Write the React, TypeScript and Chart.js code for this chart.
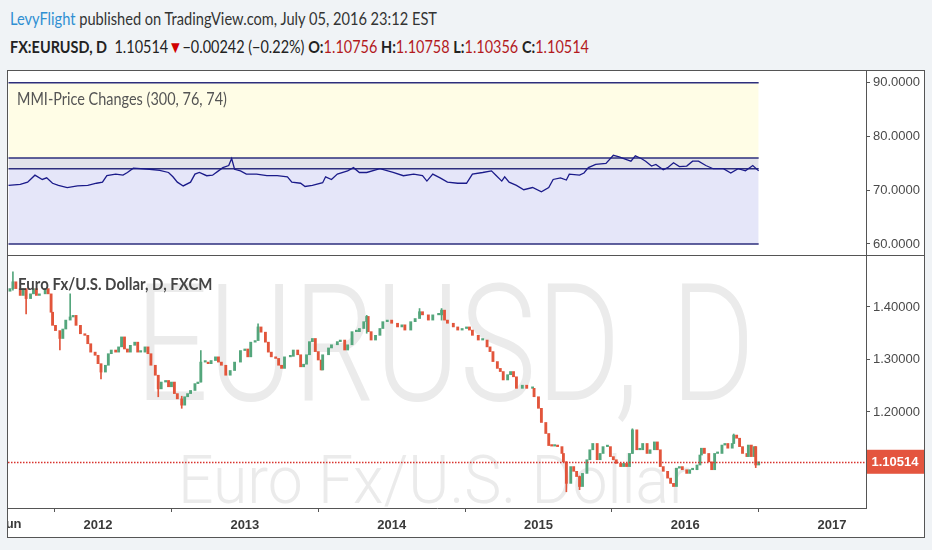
import { useEffect, useRef } from "react";
import { Chart, registerables } from "chart.js";

Chart.register(...registerables);

// MMI indicator (decimal year, value)
const mmiTime = [
  2011.39, 2011.47, 2011.52, 2011.57, 2011.62, 2011.65, 2011.69, 2011.73, 2011.79, 2011.86,
  2011.93, 2011.99, 2012.03, 2012.06, 2012.12, 2012.17, 2012.2, 2012.24, 2012.29, 2012.35,
  2012.42, 2012.48, 2012.51, 2012.54, 2012.58, 2012.63, 2012.66, 2012.69, 2012.74, 2012.78,
  2012.82, 2012.85, 2012.89, 2012.91, 2012.93, 2012.97, 2013.01, 2013.08, 2013.15, 2013.22,
  2013.29, 2013.32, 2013.38, 2013.41, 2013.46, 2013.53, 2013.55, 2013.59, 2013.63, 2013.7,
  2013.74, 2013.78, 2013.83, 2013.92, 2014.01, 2014.08, 2014.15, 2014.21, 2014.24, 2014.28,
  2014.33, 2014.38, 2014.45, 2014.51, 2014.55, 2014.62, 2014.68, 2014.71, 2014.75, 2014.77,
  2014.8, 2014.85, 2014.9, 2014.96, 2015.02, 2015.07, 2015.1, 2015.15, 2015.19, 2015.21,
  2015.28, 2015.31, 2015.34, 2015.39, 2015.46, 2015.51, 2015.55, 2015.6, 2015.63, 2015.66,
  2015.7, 2015.73, 2015.77, 2015.8, 2015.85, 2015.88, 2015.92, 2015.96, 2016.01, 2016.05,
  2016.09, 2016.14, 2016.19, 2016.26, 2016.31, 2016.36, 2016.41, 2016.46, 2016.5,
];
const mmiValue = [
  70.9, 71.1, 71.5, 72.8, 72.0, 72.3, 71.3, 70.9, 70.5, 70.8,
  70.9, 71.3, 71.5, 72.7, 73.0, 72.8, 73.3, 74.1, 74.0, 73.9,
  73.7, 73.3, 72.5, 71.5, 70.8, 71.5, 73.0, 73.3, 72.7, 72.8,
  73.6, 74.2, 74.6, 75.9, 73.9, 73.6, 73.0, 73.0, 72.7, 72.7,
  72.5, 71.5, 71.3, 70.7, 70.9, 71.4, 72.5, 72.0, 73.0, 73.6,
  74.2, 73.3, 73.3, 74.0, 73.3, 72.7, 73.0, 72.7, 71.7, 73.0,
  72.3, 71.5, 71.3, 71.3, 73.0, 73.3, 73.6, 72.8, 71.7, 72.5,
  71.5, 70.9, 70.1, 70.5, 69.7, 70.5, 72.0, 72.3, 71.9, 73.0,
  72.8, 73.2, 74.2, 74.8, 75.0, 76.5, 76.2, 75.7, 75.4, 76.4,
  75.9, 75.4, 74.5, 74.8, 73.8, 74.2, 75.1, 74.4, 74.5, 75.4,
  75.4, 74.6, 74.0, 74.0, 73.2, 74.0, 73.6, 74.6, 73.6,
];
const mmiLevels = [90, 76, 74, 60];
const mmiTicks = [60, 70, 80, 90];

// EUR/USD candles (decimal year, close)
const priceTime = [
  2011.4, 2011.42, 2011.44, 2011.47, 2011.49, 2011.51, 2011.54, 2011.56, 2011.58, 2011.6,
  2011.64, 2011.66, 2011.68, 2011.69, 2011.71, 2011.74, 2011.76, 2011.78, 2011.81, 2011.83,
  2011.85, 2011.88, 2011.91, 2011.93, 2011.95, 2011.98, 2012.0, 2012.02, 2012.05, 2012.07,
  2012.09, 2012.12, 2012.14, 2012.16, 2012.18, 2012.2, 2012.22, 2012.25, 2012.27, 2012.29,
  2012.32, 2012.34, 2012.36, 2012.39, 2012.41, 2012.43, 2012.46, 2012.48, 2012.5, 2012.52,
  2012.54, 2012.57, 2012.59, 2012.61, 2012.63, 2012.66, 2012.68, 2012.7, 2012.73, 2012.75,
  2012.77, 2012.8, 2012.82, 2012.84, 2012.87, 2012.9, 2012.93, 2012.97, 2013.0, 2013.02,
  2013.04, 2013.07, 2013.09, 2013.11, 2013.14, 2013.16, 2013.18, 2013.21, 2013.23, 2013.25,
  2013.27, 2013.31, 2013.33, 2013.36, 2013.38, 2013.4, 2013.42, 2013.44, 2013.46, 2013.48,
  2013.5, 2013.52, 2013.53, 2013.57, 2013.59, 2013.63, 2013.65, 2013.68, 2013.7, 2013.73,
  2013.76, 2013.78, 2013.81, 2013.83, 2013.84, 2013.86, 2013.89, 2013.92, 2013.94, 2013.97,
  2014.0, 2014.04, 2014.07, 2014.09, 2014.13, 2014.16, 2014.19, 2014.21, 2014.25, 2014.28,
  2014.32, 2014.34, 2014.36, 2014.38, 2014.42, 2014.45, 2014.48, 2014.51, 2014.53, 2014.55,
  2014.59, 2014.62, 2014.65, 2014.67, 2014.69, 2014.72, 2014.74, 2014.76, 2014.79, 2014.81,
  2014.83, 2014.85, 2014.89, 2014.92, 2014.96, 2014.97, 2015.0, 2015.02, 2015.05, 2015.07,
  2015.09, 2015.11, 2015.13, 2015.16, 2015.17, 2015.19, 2015.22, 2015.24, 2015.26, 2015.28,
  2015.3, 2015.33, 2015.35, 2015.37, 2015.4, 2015.42, 2015.44, 2015.47, 2015.49, 2015.51,
  2015.53, 2015.56, 2015.58, 2015.6, 2015.62, 2015.64, 2015.67, 2015.69, 2015.71, 2015.74,
  2015.76, 2015.79, 2015.81, 2015.83, 2015.85, 2015.88, 2015.9, 2015.92, 2015.94, 2015.96,
  2015.98, 2016.01, 2016.03, 2016.05, 2016.08, 2016.1, 2016.11, 2016.13, 2016.16, 2016.18,
  2016.2, 2016.22, 2016.25, 2016.27, 2016.29, 2016.32, 2016.33, 2016.35, 2016.37, 2016.39,
  2016.42, 2016.43, 2016.45, 2016.47, 2016.48, 2016.5,
];
const priceClose = [
  1.435, 1.448, 1.435, 1.422, 1.435, 1.416, 1.425, 1.435, 1.422, 1.425,
  1.435, 1.425, 1.39, 1.365, 1.355, 1.34, 1.358, 1.375, 1.381, 1.384,
  1.365, 1.349, 1.346, 1.33, 1.314, 1.308, 1.292, 1.276, 1.289, 1.311,
  1.318, 1.314, 1.324, 1.343, 1.32, 1.314, 1.327, 1.333, 1.314, 1.314,
  1.324, 1.311, 1.289, 1.27, 1.244, 1.257, 1.26, 1.248, 1.257, 1.235,
  1.225, 1.213, 1.229, 1.235, 1.241, 1.254, 1.257, 1.295, 1.295, 1.292,
  1.298, 1.305, 1.295, 1.289, 1.27, 1.279, 1.295, 1.317, 1.32, 1.305,
  1.333, 1.336, 1.362, 1.352, 1.333, 1.314, 1.305, 1.302, 1.289, 1.283,
  1.305, 1.306, 1.318, 1.309, 1.286, 1.291, 1.309, 1.334, 1.34, 1.315,
  1.299, 1.28, 1.309, 1.322, 1.328, 1.334, 1.337, 1.318, 1.328, 1.353,
  1.353, 1.359, 1.372, 1.382, 1.353, 1.337, 1.346, 1.359, 1.372, 1.375,
  1.369, 1.362, 1.366, 1.356, 1.372, 1.378, 1.391, 1.385, 1.375, 1.385,
  1.385, 1.394, 1.375, 1.369, 1.362, 1.356, 1.359, 1.362, 1.356, 1.346,
  1.337, 1.337, 1.324, 1.315, 1.296, 1.283, 1.277, 1.261, 1.271, 1.277,
  1.267, 1.245, 1.251, 1.245, 1.245, 1.229, 1.207, 1.18, 1.159, 1.136,
  1.135, 1.137, 1.134, 1.121, 1.105, 1.064, 1.096, 1.087, 1.077, 1.058,
  1.083, 1.109, 1.128, 1.14, 1.109, 1.121, 1.134, 1.134, 1.115, 1.109,
  1.102, 1.096, 1.102, 1.096, 1.121, 1.166, 1.128, 1.128, 1.14, 1.121,
  1.128, 1.143, 1.128, 1.096, 1.087, 1.074, 1.064, 1.058, 1.093, 1.096,
  1.09, 1.083, 1.09, 1.09, 1.099, 1.118, 1.131, 1.121, 1.105, 1.09,
  1.121, 1.121, 1.137, 1.14, 1.131, 1.14, 1.156, 1.15, 1.134, 1.121,
  1.115, 1.137, 1.115, 1.134, 1.099, 1.105,
];
const firstOpen = 1.43;
// visible long shadows: [decimal year, low, high]
const priceWicks = [
  [2011.42, 1.432, 1.467],
  [2011.51, 1.387, 1.425],
  [2011.74, 1.318, 1.345],
  [2011.81, 1.376, 1.425],
  [2012.02, 1.263, 1.29],
  [2012.41, 1.229, 1.258],
  [2012.57, 1.207, 1.23],
  [2012.7, 1.257, 1.317],
  [2013.09, 1.35, 1.368],
  [2013.83, 1.35, 1.384],
  [2014.19, 1.385, 1.397],
  [2014.34, 1.375, 1.397],
  [2015.19, 1.048, 1.105],
  [2015.28, 1.052, 1.078],
  [2015.64, 1.121, 1.168],
  [2016.33, 1.14, 1.158],
  [2016.48, 1.094, 1.134],
];
const priceTicks = [1.2, 1.3, 1.4];
const yearTicks = [2011.4, 2012, 2013, 2014, 2015, 2016, 2017];
const lastClose = 1.10514;

const X_MIN = 2011.3865;
const X_MAX = 2017.2312;

const UP = "#54a67c";
const DOWN = "#e2553b";
const AXIS = "#555555";
const AXIS_FONT = '"Liberation Sans", Arial, sans-serif';

function fixAxisWidth(axis: any) {
  axis.width = 58;
  axis.paddingTop = 0;
  axis.paddingBottom = 0;
}

function drawFitted(ctx: CanvasRenderingContext2D, text: string, font: string, left: number, right: number, baseline: number) {
  ctx.font = font;
  const w = ctx.measureText(text).width;
  ctx.save();
  ctx.translate(left, baseline);
  ctx.scale((right - left) / w, 1);
  ctx.textAlign = "left";
  ctx.textBaseline = "alphabetic";
  ctx.fillText(text, 0, 0);
  ctx.restore();
}

const pricePlugin = {
  id: "priceDecor",
  beforeDatasetsDraw(chart: any) {
    const { ctx, chartArea: a } = chart;
    ctx.save();
    ctx.beginPath();
    ctx.rect(a.left, a.top, a.right - a.left, a.bottom - a.top);
    ctx.clip();
    ctx.fillStyle = "#ebebeb";
    drawFitted(ctx, "EURUSD, D", '300 163px Roboto, "Liberation Sans", sans-serif', 127, 747, 144);
    drawFitted(ctx, "Euro Fx/U.S. Dollar", '300 66px Roboto, "Liberation Sans", sans-serif', 170, 682, 247);
    ctx.restore();
  },
  afterDatasetsDraw(chart: any) {
    const { ctx, chartArea: a } = chart;
    const y = Math.round(chart.scales.y.getPixelForValue(lastClose)) + 0.5;
    ctx.save();
    ctx.strokeStyle = "#d8322c";
    ctx.lineWidth = 1.5;
    ctx.setLineDash([1.5, 1.5]);
    ctx.beginPath();
    ctx.moveTo(a.left, y);
    ctx.lineTo(a.right, y);
    ctx.stroke();
    ctx.restore();
  },
  afterDraw(chart: any) {
    const { ctx, chartArea: a } = chart;
    const y = chart.scales.y.getPixelForValue(lastClose);
    ctx.save();
    ctx.fillStyle = "#e4553f";
    ctx.fillRect(a.right + 1, y - 12, chart.width - a.right - 1, 24);
    ctx.fillStyle = "#ffffff";
    ctx.font = `bold 13px ${AXIS_FONT}`;
    ctx.textAlign = "center";
    ctx.textBaseline = "middle";
    ctx.fillText(lastClose.toFixed(5), (a.right + chart.width) / 2, y + 1);
    // first month label, cut by the left edge like the original
    ctx.fillStyle = "#3a3a3a";
    ctx.textBaseline = "top";
    ctx.fillText("Jun", chart.scales.x.getPixelForValue(yearTicks[0]), a.bottom + 10);
    ctx.restore();
  },
};

export default function App() {
  const mmiRef = useRef<HTMLCanvasElement>(null);
  const priceRef = useRef<HTMLCanvasElement>(null);

  useEffect(() => {
    if (!mmiRef.current || !priceRef.current) return;

    const mmiStart = mmiTime[0];
    const mmiEnd = mmiTime[mmiTime.length - 1];
    const bandFills = ["#fffde6", "#e2e3ea", "#e5e6f9", "transparent"];

    const mmiChart = new Chart(mmiRef.current, {
      type: "line",
      data: {
        datasets: [
          {
            data: mmiTime.map((t, i) => ({ x: t, y: mmiValue[i] })),
            borderColor: "#1b1b8a",
            borderWidth: 1.3,
            pointRadius: 0,
            fill: false,
          },
          ...mmiLevels.map((lvl, i) => ({
            data: [
              { x: mmiStart, y: lvl },
              { x: mmiEnd, y: lvl },
            ],
            borderColor: "#2d2e7c",
            borderWidth: 1.6,
            pointRadius: 0,
            fill: i < 3 ? "+1" : false,
            backgroundColor: bandFills[i],
          })),
        ],
      } as any,
      options: {
        animation: false,
        responsive: true,
        maintainAspectRatio: false,
        layout: { padding: 0, autoPadding: false },
        plugins: {
          legend: { display: false },
          tooltip: { enabled: false },
          filler: { drawTime: "beforeDatasetsDraw" },
        },
        scales: {
          x: { type: "linear", min: X_MIN, max: X_MAX, display: false },
          y: {
            position: "right",
            min: 57.95,
            max: 92.18,
            afterBuildTicks: (axis: any) => {
              axis.ticks = mmiTicks.map(v => ({ value: v }));
            },
            afterFit: fixAxisWidth,
            ticks: {
              callback: (v: any) => Number(v).toFixed(4),
              color: "#4a4a4a",
              font: { family: AXIS_FONT, size: 13 },
              padding: 3,
            },
            grid: { drawOnChartArea: false, tickLength: 4, color: AXIS },
            border: { display: true, color: AXIS },
          },
        },
      } as any,
    });

    const priceOpen = priceClose.map((c, i) => (i === 0 ? firstOpen : priceClose[i - 1]));
    const candleColors = priceClose.map((c, i) => (c >= priceOpen[i] ? UP : DOWN));
    const wickColors = priceWicks.map(w => {
      const k = priceTime.findIndex(t => Math.abs(t - w[0]) < 0.005);
      return k >= 0 ? candleColors[k] : DOWN;
    });

    const priceChart = new Chart(priceRef.current, {
      type: "bar",
      data: {
        datasets: [
          {
            data: priceWicks.map(w => ({ x: w[0], y: [w[1], w[2]] })),
            backgroundColor: wickColors,
            barThickness: 1,
            grouped: false,
          },
          {
            data: priceTime.map((t, i) => ({ x: t, y: [priceOpen[i], priceClose[i]] })),
            backgroundColor: candleColors,
            barThickness: 2.2,
            minBarLength: 1.5,
            grouped: false,
          },
        ],
      } as any,
      options: {
        animation: false,
        responsive: true,
        maintainAspectRatio: false,
        layout: { padding: 0, autoPadding: false },
        plugins: { legend: { display: false }, tooltip: { enabled: false } },
        scales: {
          x: {
            type: "linear",
            min: X_MIN,
            max: X_MAX,
            offset: false,
            afterBuildTicks: (axis: any) => {
              axis.ticks = yearTicks.map(v => ({ value: v }));
            },
            afterFit: (axis: any) => {
              axis.height = 29;
              axis.paddingLeft = 0;
              axis.paddingRight = 0;
            },
            ticks: {
              autoSkip: false,
              maxRotation: 0,
              callback: (v: any) => (v === yearTicks[0] ? "" : String(v)),
              color: "#3a3a3a",
              font: { family: AXIS_FONT, size: 13, weight: "bold" },
              padding: 6,
            },
            grid: { drawOnChartArea: false, tickLength: 4, color: AXIS },
            border: { display: true, color: AXIS },
          },
          y: {
            position: "right",
            min: 1.0171,
            max: 1.4971,
            afterBuildTicks: (axis: any) => {
              axis.ticks = priceTicks.map(v => ({ value: v }));
            },
            afterFit: fixAxisWidth,
            ticks: {
              callback: (v: any) => Number(v).toFixed(5),
              color: "#4a4a4a",
              font: { family: AXIS_FONT, size: 13 },
              padding: 3,
            },
            grid: { drawOnChartArea: false, tickLength: 4, color: AXIS },
            border: { display: true, color: AXIS },
          },
        },
      } as any,
      plugins: [pricePlugin],
    });

    return () => {
      mmiChart.destroy();
      priceChart.destroy();
    };
  }, []);

  const red = { color: "#b3191d" };
  const headFont = 'Lato, "Open Sans", sans-serif';

  return (
    <div
      style={{
        position: "fixed",
        left: 0,
        top: 0,
        width: 932,
        height: 550,
        background: "#f0f3f6",
        overflow: "hidden",
        fontFamily: headFont,
      }}
    >
      <div style={{ position: "absolute", left: 10, top: 8, fontSize: 17, color: "#333", whiteSpace: "nowrap", transform: "scaleX(0.86)", transformOrigin: "left top" }}>
        <span style={{ color: "#2f8fd2" }}>LevyFlight</span> published on TradingView.com, July 05, 2016 23:12 EST
      </div>
      <div style={{ position: "absolute", left: 10, top: 36, fontSize: 17, color: "#222", whiteSpace: "nowrap", transform: "scaleX(0.85)", transformOrigin: "left top" }}>
        <b>FX:EURUSD, D</b>&nbsp; 1.10514<span style={{ color: "#d10000" }}>▼</span>−0.00242 (−0.22%) <b>O:</b>
        <span style={red}>1.10756</span> <b>H:</b>
        <span style={red}>1.10758</span> <b>L:</b>
        <span style={red}>1.10356</span> <b>C:</b>
        <span style={red}>1.10514</span>
      </div>

      <div style={{ position: "absolute", left: 7, top: 70, width: 918, height: 468, boxSizing: "border-box", border: "1px solid #555", background: "#fff" }} />
      <div style={{ position: "absolute", left: 8, top: 71, width: 916, height: 184 }}>
        <canvas ref={mmiRef}></canvas>
      </div>
      <div style={{ position: "absolute", left: 8, top: 255, width: 916, height: 1, background: "#555" }} />
      <div style={{ position: "absolute", left: 8, top: 256, width: 916, height: 281 }}>
        <canvas ref={priceRef}></canvas>
      </div>

      <div style={{ position: "absolute", left: 17, top: 88, fontSize: 17, color: "#555", whiteSpace: "nowrap", transform: "scaleX(0.85)", transformOrigin: "left top" }}>
        MMI-Price Changes (300, 76, 74)
      </div>
      <div style={{ position: "absolute", left: 18, top: 273, fontSize: 17, fontWeight: 700, color: "#444", whiteSpace: "nowrap", transform: "scaleX(0.88)", transformOrigin: "left top" }}>
        Euro Fx/U.S. Dollar, D, FXCM
      </div>
    </div>
  );
}
